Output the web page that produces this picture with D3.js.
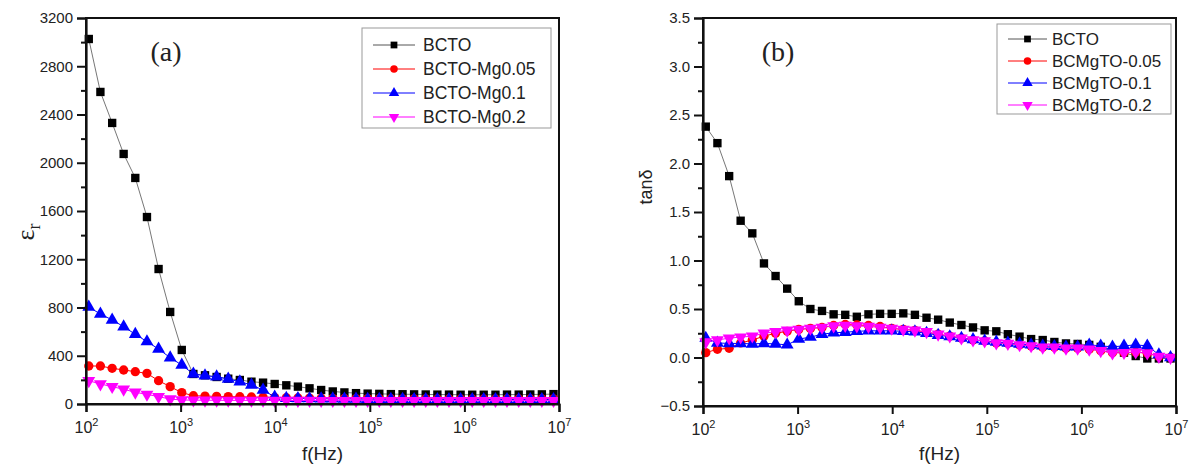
<!DOCTYPE html>
<html>
<head>
<meta charset="utf-8">
<script src="https://cdnjs.cloudflare.com/ajax/libs/d3/7.8.5/d3.min.js"></script>
<style>
  body { margin: 0; background: #fff; }
  svg { display: block; font-family: "Liberation Sans", Arial, sans-serif; }
</style>
</head>
<body>
<div id="chart"></div>
<script>
// measured frequencies (Hz), same sweep for both panels
const freqs = [107, 142, 189, 250, 332, 441, 585, 776, 1029, 1365, 1811, 2403, 3188, 4229,
  5610, 7443, 9875, 13100, 17380, 23060, 30600, 40600, 53900, 71500, 94900, 126000,
  167000, 222000, 294000, 390000, 518000, 687000, 912000, 1210000, 1600000, 2130000,
  2820000, 3750000, 4970000, 6590000, 8750000];

const xTicks = [1e2, 1e3, 1e4, 1e5, 1e6, 1e7];

// panel (a): relative permittivity
const epsBCTO = [3026, 2587, 2330, 2073, 1874, 1550, 1119, 763, 448, 249, 238, 224, 210, 199,
  185, 177, 166, 155, 144, 130, 116, 104, 96, 90, 86, 84, 82, 81, 80, 79, 78, 78, 77, 77,
  77, 77, 78, 78, 79, 80, 82];
const epsMg005 = [315, 315, 296, 282, 268, 254, 193, 144, 94, 69, 66, 63, 61, 60, 58, 56, 54,
  52, 50, 49, 48, 47, 46, 45, 45, 44, 44, 43, 43, 43, 42, 42, 42, 42, 42, 42, 42, 42, 42, 43, 43];
const epsMg01 = [804, 746, 697, 641, 578, 517, 456, 384, 323, 249, 235, 226, 207, 185, 158, 116,
  58, 48, 46, 45, 44, 43, 42, 41, 40, 40, 39, 39, 38, 38, 38, 38, 37, 37, 37, 37, 37, 37, 37, 37, 38];
const epsMg02 = [193, 166, 144, 122, 97, 80, 61, 41, 33, 32, 31, 31, 30, 30, 30, 30, 29, 29, 29,
  29, 28, 28, 28, 28, 28, 28, 28, 28, 28, 28, 28, 28, 28, 28, 28, 28, 28, 28, 28, 28, 28];
const epsNames = ["BCTO", "BCTO-Mg0.05", "BCTO-Mg0.1", "BCTO-Mg0.2"];
const epsTicks = [0, 400, 800, 1200, 1600, 2000, 2400, 2800, 3200];

// panel (b): loss tangent
const tanBCTO = [2.38, 2.21, 1.87, 1.41, 1.28, 0.97, 0.84, 0.71, 0.58, 0.50, 0.48, 0.445, 0.44,
  0.42, 0.445, 0.45, 0.45, 0.455, 0.44, 0.41, 0.39, 0.36, 0.335, 0.31, 0.28, 0.27, 0.24, 0.215,
  0.19, 0.18, 0.16, 0.145, 0.14, 0.13, 0.11, 0.08, 0.05, 0.015, -0.01, -0.01, -0.01];
const tanMg005 = [0.05, 0.085, 0.095, 0.15, 0.18, 0.22, 0.25, 0.27, 0.29, 0.30, 0.31, 0.33, 0.34,
  0.335, 0.33, 0.32, 0.30, 0.29, 0.28, 0.26, 0.24, 0.22, 0.20, 0.18, 0.17, 0.15, 0.145, 0.13,
  0.12, 0.105, 0.105, 0.095, 0.095, 0.085, 0.07, 0.05, 0.05, 0.055, 0.045, 0.01, 0.0];
const tanMg01 = [0.20, 0.15, 0.145, 0.145, 0.14, 0.145, 0.14, 0.13, 0.19, 0.21, 0.24, 0.255, 0.26,
  0.27, 0.275, 0.275, 0.275, 0.27, 0.265, 0.25, 0.23, 0.215, 0.20, 0.185, 0.17, 0.16, 0.15, 0.14,
  0.13, 0.12, 0.115, 0.11, 0.11, 0.13, 0.12, 0.11, 0.12, 0.13, 0.12, 0.03, 0.0];
const tanMg02 = [0.16, 0.18, 0.20, 0.21, 0.22, 0.25, 0.265, 0.28, 0.29, 0.30, 0.31, 0.325, 0.33,
  0.325, 0.32, 0.31, 0.30, 0.29, 0.28, 0.265, 0.24, 0.22, 0.20, 0.18, 0.17, 0.15, 0.145, 0.13,
  0.12, 0.105, 0.105, 0.095, 0.095, 0.085, 0.07, 0.045, 0.05, 0.055, 0.045, 0.01, 0.0];
const tanNames = ["BCTO", "BCMgTO-0.05", "BCMgTO-0.1", "BCMgTO-0.2"];
const tanTicks = [-0.5, 0.0, 0.5, 1.0, 1.5, 2.0, 2.5, 3.0, 3.5];

const colors = ["#000000", "#ff0000", "#0000ff", "#ff00ff"];
const shapes = [d3.symbolSquare, d3.symbolCircle, d3.symbolTriangle, d3.symbolTriangle];
const sizes = [70, 68, 72, 72];
const rotate = [0, 0, 0, 180];
const sans = "'Liberation Sans', Arial, sans-serif";
const serif = "'Liberation Serif', 'Times New Roman', serif";

const svg = d3.select("#chart").append("svg").attr("width", 1189).attr("height", 468);

function drawPanel(p) {
  const x = d3.scaleLog().domain([1e2, 1e7]).range([p.left, p.right]);
  const y = d3.scaleLinear().domain(p.yDomain).range([p.bottom, p.top]);
  const g = svg.append("g");

  // series: thin connecting line then markers
  p.series.forEach((vals, k) => {
    const pts = vals.map((v, i) => [freqs[i], v]);
    g.append("path")
      .datum(pts)
      .attr("fill", "none")
      .attr("stroke", k === 0 ? "#777" : colors[k])
      .attr("stroke-width", 1)
      .attr("d", d3.line().x((d) => x(d[0])).y((d) => y(d[1])));
    g.selectAll(null)
      .data(pts)
      .enter()
      .append("path")
      .attr("d", d3.symbol(shapes[k], sizes[k]))
      .attr("fill", colors[k])
      .attr("transform", (d) => `translate(${x(d[0])},${y(d[1])}) rotate(${rotate[k]})`);
  });

  // frame (top + right)
  g.append("rect")
    .attr("x", p.left).attr("y", p.top)
    .attr("width", p.right - p.left).attr("height", p.bottom - p.top)
    .attr("fill", "none").attr("stroke", "#111").attr("stroke-width", 2);

  // x axis
  const xa = g.append("g")
    .attr("transform", `translate(0,${p.bottom})`)
    .call(d3.axisBottom(x).tickValues(xTicks).tickSize(8).tickFormat(""))
    .attr("font-family", sans);
  xa.select(".domain").attr("stroke-width", 2.2).attr("stroke", "#111");
  xa.selectAll(".tick line").attr("stroke-width", 2).attr("stroke", "#111");
  xa.selectAll(".tick").each(function (d) {
    const t = d3.select(this).append("text")
      .attr("y", 29).attr("fill", "#222").attr("text-anchor", "middle")
      .style("font-size", "16px");
    t.append("tspan").text("10");
    t.append("tspan").attr("dy", -7).style("font-size", "11px").text(Math.round(Math.log10(d)));
  });

  // y axis: minor ticks then majors with labels
  const minor = d3.range(0, p.yTicks.length - 1).map((i) => (p.yTicks[i] + p.yTicks[i + 1]) / 2);
  g.append("g")
    .attr("transform", `translate(${p.left},0)`)
    .call(d3.axisLeft(y).tickValues(minor).tickSize(5).tickFormat(""))
    .call((a) => a.select(".domain").remove())
    .selectAll(".tick line").attr("stroke-width", 2).attr("stroke", "#111");
  const ya = g.append("g")
    .attr("transform", `translate(${p.left},0)`)
    .call(d3.axisLeft(y).tickValues(p.yTicks).tickSize(9).tickPadding(4).tickFormat(p.yFormat))
    .attr("font-family", sans);
  ya.select(".domain").attr("stroke-width", 2.2).attr("stroke", "#111");
  ya.selectAll(".tick line").attr("stroke-width", 2).attr("stroke", "#111");
  ya.selectAll(".tick text").attr("fill", "#222").style("font-size", "15px");

  // axis titles
  g.append("text")
    .attr("x", (p.left + p.right) / 2).attr("y", 460)
    .attr("text-anchor", "middle").attr("fill", "#222")
    .style("font-size", "19px").text("f(Hz)");
  p.yTitle(g);

  // panel tag
  g.append("text")
    .attr("x", p.tagX).attr("y", 61)
    .attr("text-anchor", "middle").attr("fill", "#222")
    .style("font-family", serif)
    .style("font-size", "28px").text(p.tag);

  // legend
  const L = p.legend;
  g.append("rect")
    .attr("x", L.x0).attr("y", L.y0).attr("width", L.x1 - L.x0).attr("height", L.y1 - L.y0)
    .attr("fill", "#fff").attr("stroke", "#999").attr("stroke-width", 1);
  p.names.forEach((name, k) => {
    const yy = L.rowY[k];
    g.append("line")
      .attr("x1", L.lineX0).attr("x2", L.lineX1).attr("y1", yy).attr("y2", yy)
      .attr("stroke", k === 0 ? "#555" : colors[k]).attr("stroke-width", 1);
    g.append("path")
      .attr("d", d3.symbol(shapes[k], sizes[k] * 0.65))
      .attr("fill", colors[k])
      .attr("transform", `translate(${(L.lineX0 + L.lineX1) / 2},${yy}) rotate(${rotate[k]})`);
    g.append("text")
      .attr("x", L.textX).attr("y", yy).attr("dy", "0.36em")
      .attr("fill", "#222").style("font-size", L.font).text(name);
  });
}

drawPanel({
  left: 86, right: 559, top: 18, bottom: 404,
  yDomain: [0, 3200], yTicks: epsTicks, yFormat: d3.format("d"),
  series: [epsBCTO, epsMg005, epsMg01, epsMg02],
  names: epsNames, tag: "(a)", tagX: 166,
  legend: { x0: 362, x1: 551, y0: 28, y1: 128, rowY: [45, 69, 93, 117],
    lineX0: 373, lineX1: 415, textX: 423, font: "17.5px" },
  yTitle: (g) => {
    const t = g.append("text")
      .attr("transform", "translate(34,232) rotate(-90)")
      .attr("text-anchor", "middle").attr("fill", "#222")
      .style("font-family", serif)
      .style("font-size", "26px");
    t.append("tspan").text("ε");
    t.append("tspan").attr("dy", 6).style("font-size", "18px").text("r");
  }
});

drawPanel({
  left: 703, right: 1176, top: 18, bottom: 406,
  yDomain: [-0.5, 3.5], yTicks: tanTicks, yFormat: d3.format(".1f"),
  series: [tanBCTO, tanMg005, tanMg01, tanMg02],
  names: tanNames, tag: "(b)", tagX: 778,
  legend: { x0: 997, x1: 1171, y0: 24, y1: 114, rowY: [39, 61, 83, 105],
    lineX0: 1008, lineX1: 1047, textX: 1052, font: "17px" },
  yTitle: (g) => {
    g.append("text")
      .attr("transform", "translate(652,187) rotate(-90)")
      .attr("text-anchor", "middle").attr("fill", "#222")
      .style("font-size", "18px").text("tanδ");
  }
});
</script>
</body>
</html>
